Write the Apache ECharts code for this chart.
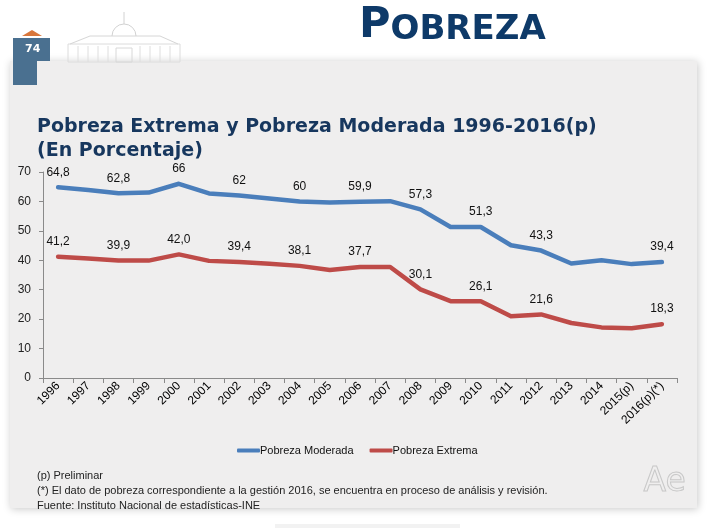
<!DOCTYPE html>
<html>
<head>
<meta charset="utf-8">
<script src="https://cdn.jsdelivr.net/npm/echarts@6/dist/echarts.min.js"></script>
<style>
html,body{margin:0;padding:0;background:#fff;}
#c{width:716px;height:528px;}
</style>
</head>
<body>
<div id="c"></div>
<script>
var categories = ['1996','1997','1998','1999','2000','2001','2002','2003','2004','2005','2006','2007','2008','2009','2010','2011','2012','2013','2014','2015(p)','2016(p)(*)'];
var moderada = [64.8, 63.9, 62.8, 63.0, 66.0, 62.7, 62.0, 61.0, 60.0, 59.6, 59.9, 60.1, 57.3, 51.3, 51.3, 45.1, 43.3, 38.9, 40.0, 38.7, 39.4];
var extrema = [41.2, 40.6, 39.9, 39.9, 42.0, 39.8, 39.4, 38.8, 38.1, 36.7, 37.7, 37.7, 30.1, 26.1, 26.1, 21.0, 21.6, 18.7, 17.2, 16.9, 18.3];
var labelsModerada = ['64,8','','62,8','','66','','62','','60','','59,9','','57,3','','51,3','','43,3','','','','39,4'];
var labelsExtrema = ['41,2','','39,9','','42,0','','39,4','','38,1','','37,7','','30,1','','26,1','','21,6','','','','18,3'];
var yTicks = [0,10,20,30,40,50,60,70];

var txtFont = '"Liberation Sans",sans-serif';

var chart = echarts.init(document.getElementById('c'));
chart.setOption({
  backgroundColor: '#ffffff',
  animation: false,
  title: {
    text: 'Pobreza Extrema y Pobreza Moderada 1996-2016(p)\n(En Porcentaje)',
    left: 32, top: 110,
    textStyle: {fontFamily: 'DejaVu Sans', fontWeight: 'bold', fontSize: 19, color: '#17375e', lineHeight: 24}
  },
  legend: {
    left: 232, top: 440,
    icon: 'roundRect', itemWidth: 23, itemHeight: 4, itemGap: 16,
    textStyle: {fontFamily: txtFont, fontSize: 11, color: '#111', padding: [0,0,0,-5]},
    data: ['Pobreza Moderada', 'Pobreza Extrema']
  },
  grid: {left: 43, right: 39, top: 172, bottom: 150},
  xAxis: {
    type: 'category', data: categories, boundaryGap: true,
    axisLine: {lineStyle: {color: '#8a8a8a', width: 1}},
    axisTick: {show: true, length: 5, lineStyle: {color: '#8a8a8a'}},
    axisLabel: {rotate: 45, interval: 0, fontFamily: txtFont, fontSize: 12, color: '#000', margin: 6}
  },
  yAxis: {
    type: 'value', min: yTicks[0], max: yTicks[yTicks.length-1], interval: 10,
    axisLine: {show: true, lineStyle: {color: '#8a8a8a', width: 1}},
    axisTick: {show: true, length: 4, lineStyle: {color: '#8a8a8a'}},
    splitLine: {show: false},
    axisLabel: {fontFamily: txtFont, fontSize: 12, color: '#222', margin: 12}
  },
  series: [
    {
      name: 'Pobreza Moderada', type: 'line', data: moderada,
      color: '#4a7ebb', showSymbol: true, symbol: 'circle', symbolSize: 2,
      itemStyle: {color: '#4a7ebb'},
      lineStyle: {width: 4.5, color: '#4a7ebb', cap: 'round', join: 'round'},
      label: {show: true, position: 'top', distance: 8, fontFamily: txtFont, fontSize: 12, color: '#111',
        formatter: function(p){ return labelsModerada[p.dataIndex]; }},
      z: 3
    },
    {
      name: 'Pobreza Extrema', type: 'line', data: extrema,
      color: '#be4b48', showSymbol: true, symbol: 'circle', symbolSize: 2,
      itemStyle: {color: '#be4b48'},
      lineStyle: {width: 4.5, color: '#be4b48', cap: 'round', join: 'round'},
      label: {show: true, position: 'top', distance: 8, fontFamily: txtFont, fontSize: 12, color: '#111',
        formatter: function(p){ return labelsExtrema[p.dataIndex]; }},
      z: 3
    }
  ],
  graphic: [
    {type: 'group', silent: true, z: -20, children: [
      {type: 'rect', shape: {x: 68, y: 44, width: 112, height: 18}, style: {fill: 'none', stroke: '#dcdcdc', lineWidth: 1}},
      {type: 'polyline', shape: {points: [[70,44],[90,36],[160,36],[178,44]]}, style: {fill: 'none', stroke: '#d6d6d6', lineWidth: 1}},
      {type: 'arc', shape: {cx: 124, cy: 36, r: 12, startAngle: Math.PI, endAngle: 2*Math.PI}, style: {fill: 'none', stroke: '#d2d2d2', lineWidth: 1}},
      {type: 'line', shape: {x1: 124, y1: 24, x2: 124, y2: 12}, style: {stroke: '#d2d2d2', lineWidth: 1}},
      {type: 'rect', shape: {x: 116, y: 48, width: 16, height: 14}, style: {fill: 'none', stroke: '#d8d8d8', lineWidth: 1}},
      {type: 'line', shape: {x1: 78, y1: 46, x2: 78, y2: 62}, style: {stroke: '#dedede'}},
      {type: 'line', shape: {x1: 88, y1: 46, x2: 88, y2: 62}, style: {stroke: '#dedede'}},
      {type: 'line', shape: {x1: 98, y1: 46, x2: 98, y2: 62}, style: {stroke: '#dedede'}},
      {type: 'line', shape: {x1: 108, y1: 46, x2: 108, y2: 62}, style: {stroke: '#dedede'}},
      {type: 'line', shape: {x1: 140, y1: 46, x2: 140, y2: 62}, style: {stroke: '#dedede'}},
      {type: 'line', shape: {x1: 150, y1: 46, x2: 150, y2: 62}, style: {stroke: '#dedede'}},
      {type: 'line', shape: {x1: 160, y1: 46, x2: 160, y2: 62}, style: {stroke: '#dedede'}},
      {type: 'line', shape: {x1: 170, y1: 46, x2: 170, y2: 62}, style: {stroke: '#dedede'}}
    ]},
    {type: 'rect', z: -10, silent: true, shape: {x: 10, y: 61, width: 687, height: 447},
      style: {fill: '#efeeee', shadowBlur: 8, shadowColor: 'rgba(0,0,0,0.22)', shadowOffsetX: 1, shadowOffsetY: 1}},
    {type: 'polygon', z: 5, silent: true, shape: {points: [[13,38],[50,38],[50,61],[37,61],[37,85],[13,85]]}, style: {fill: '#4a7090'}},
    {type: 'polygon', z: 5, silent: true, shape: {points: [[22,36],[42,36],[32,30]]}, style: {fill: '#d9773c'}},
    {type: 'text', z: 6, left: 25, top: 44, style: {text: '74', fill: '#ffffff', font: 'bold 11px "DejaVu Sans"'}},
    {type: 'text', z: 6, left: 359, top: 4, style: {
      text: '{a|P}{b|OBREZA}',
      rich: {
        a: {fontFamily: 'DejaVu Sans', fontWeight: 'bold', fontSize: 43, fill: '#0e3a69', verticalAlign: 'bottom'},
        b: {fontFamily: 'DejaVu Sans', fontWeight: 'bold', fontSize: 34, fill: '#0e3a69', verticalAlign: 'bottom'}
      }
    }},
    {type: 'text', z: 6, left: 37, top: 470, style: {text: '(p) Preliminar', fill: '#222', font: '11px ' + txtFont}},
    {type: 'text', z: 6, left: 37, top: 485, style: {text: '(*) El dato de pobreza correspondiente a la gestión 2016, se encuentra en proceso de análisis y revisión.', fill: '#222', font: '11px ' + txtFont}},
    {type: 'text', z: 6, left: 37, top: 500, style: {text: 'Fuente: Instituto Nacional de estadísticas-INE', fill: '#222', font: '11px ' + txtFont}},
    {type: 'text', z: 6, left: 643, top: 465, style: {text: 'Ae', fill: 'rgba(0,0,0,0)', stroke: '#c8c8c8', lineWidth: 1, font: '33px "DejaVu Sans"'}},
    {type: 'rect', z: -10, silent: true, shape: {x: 275, y: 524, width: 185, height: 4}, style: {fill: '#f2f2f2'}}
  ]
});
</script>
</body>
</html>
